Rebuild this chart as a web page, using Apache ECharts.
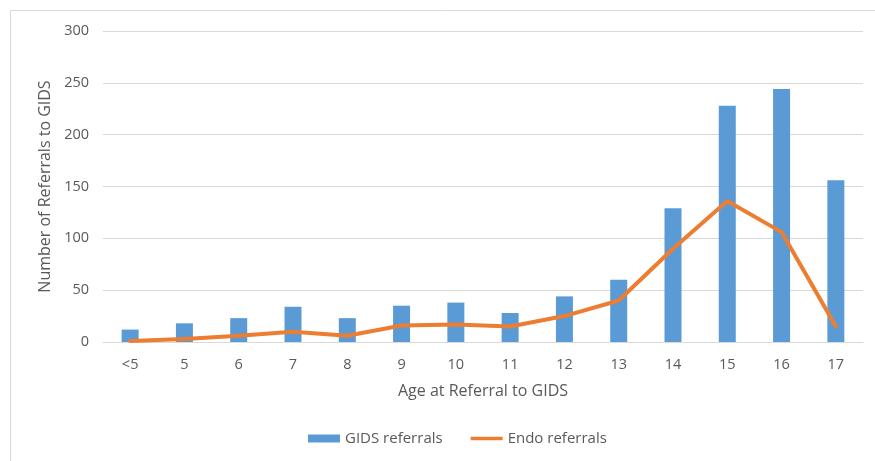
<!DOCTYPE html>
<html>
<head>
<meta charset="utf-8">
<script src="https://cdn.jsdelivr.net/npm/echarts@6/dist/echarts.min.js"></script>
<style>html,body{margin:0;padding:0;background:#fff;}#c{width:875px;height:461px;}</style>
</head>
<body>
<div id="c"></div>
<script>
var categories = ['<5','5','6','7','8','9','10','11','12','13','14','15','16','17'];
var gidsReferrals = [12,18,23,34,23,35,38,28,44,60,129,228,244,156];
var endoReferrals = [1,3,6,10,6,16,17,15,25,40,90,136,106,15];
var yTicks = {min:0, max:300, interval:50};

var chart = echarts.init(document.getElementById('c'));
var font = 'Open Sans';
chart.setOption({
  animation:false,
  backgroundColor:'#fff',
  graphic:[{type:'rect', shape:{x:10.5,y:10.5,width:900,height:500}, style:{fill:'none',stroke:'#D9D9D9',lineWidth:1}, silent:true}],
  grid:{left:103, right:12, top:31, bottom:119, containLabel:false},
  legend:{
    bottom:10, left:303, itemGap:28, itemWidth:32, itemHeight:8,
    textStyle:{color:'#595959', fontSize:15, fontFamily:font},
    data:[{name:'GIDS referrals', icon:'rect'},{name:'Endo referrals', icon:'path://M0,2H38V6H0Z'}]
  },
  xAxis:{
    type:'category', data:categories,
    name:'Age at Referral to GIDS', nameLocation:'middle', nameGap:41,
    nameTextStyle:{color:'#595959', fontSize:16, fontFamily:font},
    axisLine:{lineStyle:{color:'#D9D9D9'}},
    axisTick:{show:false},
    axisLabel:{color:'#595959', fontSize:14.5, fontFamily:font, margin:15}
  },
  yAxis:{
    type:'value', min:yTicks.min, max:yTicks.max, interval:yTicks.interval,
    name:'Number of Referrals to GIDS', nameLocation:'middle', nameGap:50, nameRotate:90,
    nameTextStyle:{color:'#595959', fontSize:16, fontFamily:font},
    axisLine:{show:false}, axisTick:{show:false},
    axisLabel:{color:'#595959', fontSize:14.5, fontFamily:font, margin:14},
    splitLine:{lineStyle:{color:'#D9D9D9', width:1}}
  },
  series:[
    {name:'GIDS referrals', type:'bar', data:gidsReferrals, barWidth:17,
     itemStyle:{color:'#5B9BD5'}},
    {name:'Endo referrals', type:'line', data:endoReferrals, symbol:'none',
     lineStyle:{color:'#ED7D31', width:4, cap:'round', join:'round'}, itemStyle:{color:'#ED7D31'}}
  ]
});
</script>
</body>
</html>
